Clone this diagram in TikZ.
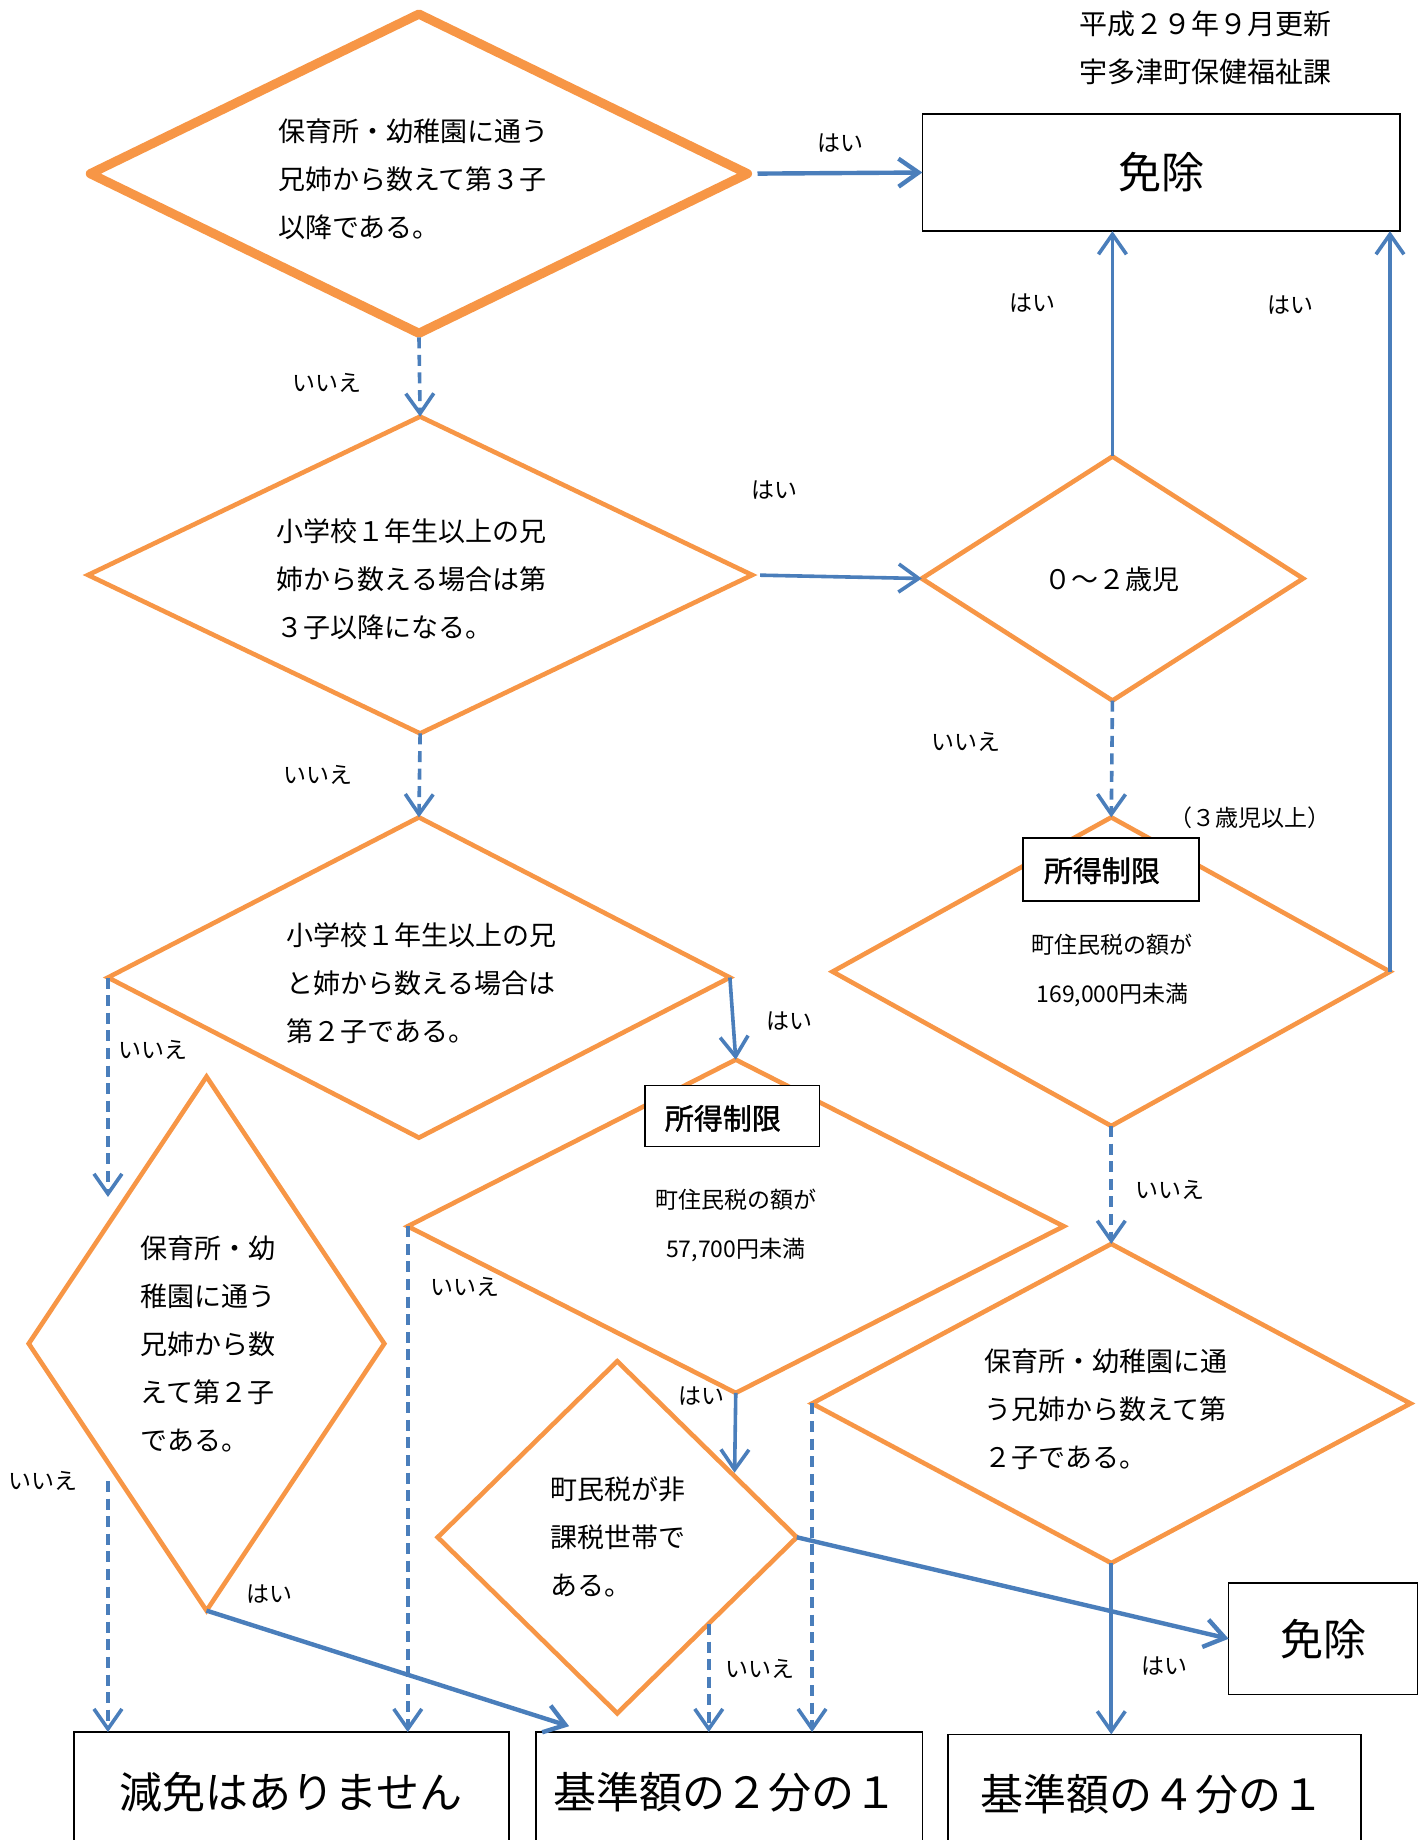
\documentclass[tikz,border=0pt]{standalone}
\usepackage{fontspec}
\setmainfont{Noto Sans CJK JP}
\newfontfamily\limfont[FakeBold=1.5]{Noto Sans CJK JP}
\usetikzlibrary{shapes.geometric,arrows.meta}
\definecolor{dorange}{HTML}{F79646}
\definecolor{dblue}{HTML}{4A7EBB}
\def\pxu{0.5868pt}
\begin{document}
\begin{tikzpicture}[x=0.5868pt,y=-0.5868pt,
  every node/.style={inner sep=0pt, outer sep=0pt},
  dia/.style={diamond, draw=dorange, line width=2.3pt},
  txt/.style={align=left, anchor=west, font=\fontsize{13.5}{24}\selectfont},
  stxt/.style={align=center, font=\fontsize{11.5}{24.6}\selectfont},
  yn/.style={font=\fontsize{11.5}{14}\selectfont},
  arr/.style={draw=dblue, line width=1.8pt, -{Straight Barb[length=10pt,width=14pt]}},
  darr/.style={arr, dash pattern=on 5.5pt off 3.3pt},
  bigbox/.style={rectangle, draw=black, line width=0.8pt, fill=white},
  bigtxt/.style={font=\fontsize{21.5}{24}\selectfont},
  limbox/.style={rectangle, draw=black, line width=0.8pt, fill=white},
  limtxt/.style={font=\limfont\fontsize{14.5}{16}\selectfont}
]
\path[use as bounding box, clip] (0,0) rectangle (1216,1568);

% header
\node[font=\fontsize{14}{16}\selectfont] (h1) at (1027,20) {平成２９年９月更新};
\node[font=\fontsize{14}{16}\selectfont] (h2) at (1027,61) {宇多津町保健福祉課};

% boxes
\node[bigbox, minimum width=407*\pxu, minimum height=100*\pxu, bigtxt] (box1) at (989.5,147) {免除};
\node[bigbox, minimum width=161*\pxu, minimum height=95*\pxu, bigtxt] (box2) at (1127.5,1396.5) {免除};
\node[bigbox, minimum width=371*\pxu, minimum height=140*\pxu] (bA) at (248.5,1546) {};
\node[bigbox, minimum width=329*\pxu, minimum height=140*\pxu] (bB) at (621.5,1546) {};
\node[bigbox, minimum width=352*\pxu, minimum height=140*\pxu] (bC) at (984,1548) {};
\node[bigtxt] (tA) at (248,1527) {減免はありません};
\node[bigtxt] (tB) at (618,1527) {基準額の２分の１};
\node[bigtxt] (tC) at (982,1529) {基準額の４分の１};

% diamonds
\node[dia, line width=4.6pt, line join=round, minimum width=560*\pxu, minimum height=272*\pxu] (d1) at (357,148) {};
\node[dia, minimum width=566*\pxu, minimum height=270*\pxu] (d2) at (358,490) {};
\node[dia, minimum width=325*\pxu, minimum height=208*\pxu] (d3) at (948,493) {};
\node[dia, minimum width=475*\pxu, minimum height=263*\pxu] (d4) at (947,828) {};
\node[dia, minimum width=530*\pxu, minimum height=273*\pxu] (d5) at (357,833) {};
\node[dia, minimum width=559*\pxu, minimum height=284*\pxu] (d6) at (627,1045) {};
\node[dia, minimum width=303*\pxu, minimum height=455*\pxu] (d7) at (176,1145) {};
\node[dia, minimum width=306*\pxu, minimum height=300*\pxu] (d8) at (526,1310) {};
\node[dia, minimum width=510*\pxu, minimum height=272*\pxu] (d9) at (947,1196) {};

% diamond texts
\node[txt] (d1t) at (237,153) {保育所・幼稚園に通う\\兄姉から数えて第３子\\以降である。};
\node[txt] (d2t) at (236,494) {小学校１年生以上の兄\\姉から数える場合は第\\３子以降になる。};
\node[font=\fontsize{13.5}{16}\selectfont] (d3t) at (948,494) {０～２歳児};
\node[limbox, minimum width=150*\pxu, minimum height=54*\pxu] (l4) at (947,741) {};
\node[limtxt] (l4t) at (939,742) {所得制限};
\node[stxt] (d4t) at (948,827) {町住民税の額が\\169,000円未満};
\node[yn] (age) at (1065,697) {（３歳児以上）};
\node[txt] (d5t) at (244,838) {小学校１年生以上の兄\\と姉から数える場合は\\第２子である。};
\node[limbox, minimum width=149*\pxu, minimum height=52*\pxu] (l6) at (624,951) {};
\node[limtxt] (l6t) at (616,953) {所得制限};
\node[stxt] (d6t) at (627,1044) {町住民税の額が\\57,700円未満};
\node[txt] (d7t) at (120,1145) {保育所・幼\\稚園に通う\\兄姉から数\\えて第２子\\である。};
\node[txt] (d8t) at (469,1310) {町民税が非\\課税世帯で\\ある。};
\node[txt] (d9t) at (839,1201) {保育所・幼稚園に通\\う兄姉から数えて第\\２子である。};

% helper coordinates
\coordinate (c1) at (92,1020);
\coordinate (c2) at (92,1262);
\coordinate (c3) at (626,1255);
\coordinate (c4) at (604,1384);
\coordinate (c5) at (485,1471);

% connectors
\draw[arr, line width=2.2pt, shorten <=5pt] (d1.east) -- (box1.west);
\draw[darr, shorten <=2pt] (d1.south) -- (d2.north);
\draw[arr, shorten <=4pt] (d2.east) -- (d3.west);
\draw[arr] (d3.north) -- (d3.north |- box1.south);
\draw[arr] (d4.east) -- (d4.east |- box1.south);
\draw[darr] (d3.south) -- (d4.north);
\draw[darr] (d2.south) -- (d5.north);
\draw[arr] (d5.east) -- (d6.north);
\draw[darr] (d5.west) -- (c1);
\draw[darr] (c2) -- (c2 |- bA.north);
\draw[arr, line width=2.2pt] (d7.south) -- (c5);
\draw[darr] (d6.west) -- (d6.west |- bA.north);
\draw[arr] (d6.south) -- (c3);
\draw[arr, line width=2.2pt] (d8.east) -- (box2.west);
\draw[darr] (c4) -- (c4 |- bB.north);
\draw[darr] (d9.west) -- (d9.west |- bB.north);
\draw[darr] (d4.south) -- (d9.north);
\draw[arr] (d9.south) -- (d9.south |- bC.north);

% yes/no labels
\node[yn] (y1) at (716,122) {はい};
\node[yn] (n1) at (279,326) {いいえ};
\node[yn] (y2) at (660,418) {はい};
\node[yn] (y3) at (880,258) {はい};
\node[yn] (y4) at (1100,260) {はい};
\node[yn] (n2) at (823,632) {いいえ};
\node[yn] (n3) at (271,660) {いいえ};
\node[yn] (y5) at (673,870) {はい};
\node[yn] (n4) at (130,895) {いいえ};
\node[yn] (n5) at (37,1262) {いいえ};
\node[yn] (y6) at (230,1358) {はい};
\node[yn] (n6) at (396,1097) {いいえ};
\node[yn] (y7) at (598,1190) {はい};
\node[yn] (n7) at (648,1422) {いいえ};
\node[yn] (n8) at (997,1014) {いいえ};
\node[yn] (y8) at (992,1420) {はい};
\end{tikzpicture}
\end{document}
